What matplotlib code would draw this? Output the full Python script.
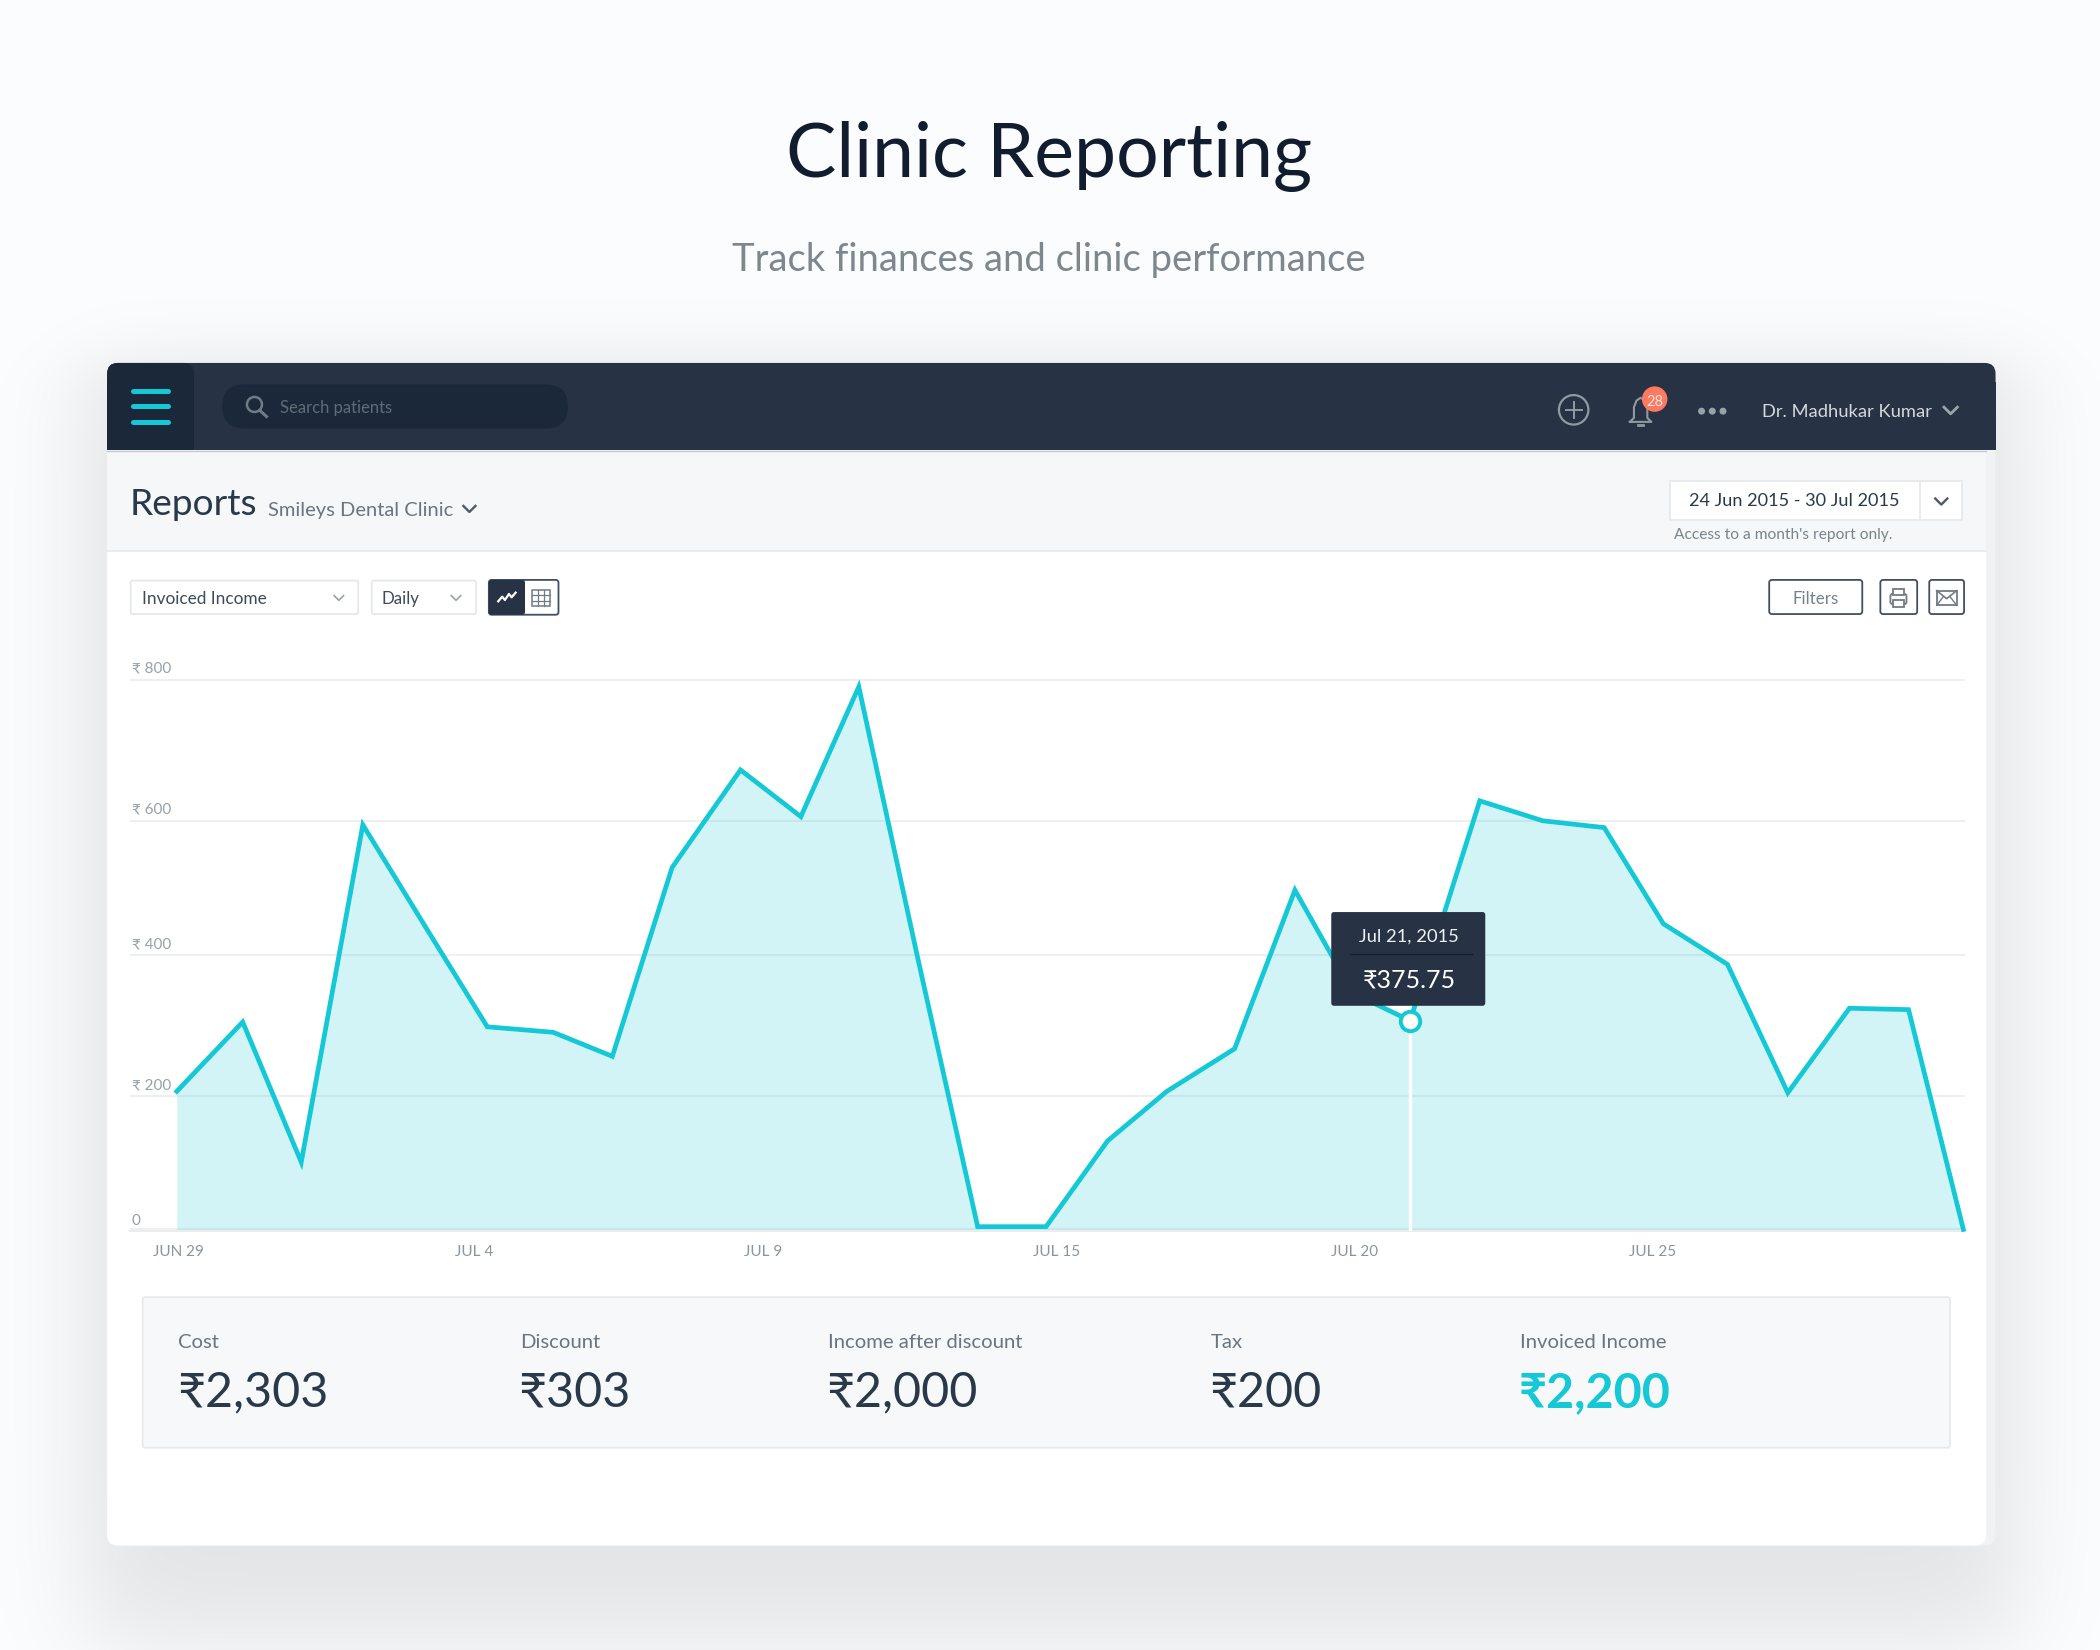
import numpy as np
import matplotlib
matplotlib.use("Agg")
import matplotlib.pyplot as plt
import matplotlib.patches as patches

plt.rcParams['font.family'] = ['Lato', 'DejaVu Sans']

# chart values
day_pos = [0, 1.07, 2.02, 3.02, 4.04, 5.04, 6.11, 7.07, 8.04, 9.15, 10.13, 11.07, 12.02, 13.0, 14.11,
           15.11, 16.07, 17.17, 18.15, 19.09, 20.02, 21.15, 22.17, 23.17, 24.13, 25.17, 26.15, 27.15, 28.11, 29.0]
income = [201, 302, 98, 589, 440, 295, 287, 252, 527, 669, 601, 790, 398, 4, 4,
          129, 201, 263, 494, 344, 304, 624, 595, 585, 445, 386, 199, 322, 320, 0]
# the gridlines in the picture are not evenly spaced, these are where they sit
y_ticks = [0, 194, 399, 595, 800]
y_labels = ['0', '₹ 200', '₹ 400', '₹ 600', '₹ 800']
x_ticks = [0.02, 4.82, 9.52, 14.28, 19.12, 23.95]
x_labels = ['JUN 29', 'JUL 4', 'JUL 9', 'JUL 15', 'JUL 20', 'JUL 25']
hover_index = 20
hover_date = 'Jul 21, 2015'
hover_value = '₹375.75'

summary_names = ['Cost', 'Discount', 'Income after discount', 'Tax', 'Invoiced Income']
summary_values = ['₹2,303', '₹303', '₹2,000', '₹200', '₹2,200']

TEAL = '#14c8d6'
NAVY = '#273344'
DARK = '#1b2839'
TEXT = '#2a394a'
GREY = '#69757f'
W, H = 1568, 1232

fig = plt.figure(figsize=(21, 16.5), dpi=100)


def px_axes(zorder):
    ax = fig.add_axes([0, 0, 1, 1], zorder=zorder)
    ax.set_xlim(0, W)
    ax.set_ylim(H, 0)
    ax.axis('off')
    ax.patch.set_alpha(0)
    return ax


def box(ax, x0, y0, x1, y1, fc='white', ec='none', lw=1.0, r=0, z=2):
    if r:
        p = patches.FancyBboxPatch((x0 + r, y0 + r), x1 - x0 - 2 * r, y1 - y0 - 2 * r,
                                   boxstyle='round,pad=%f,rounding_size=%f' % (r, r),
                                   fc=fc, ec=ec, lw=lw, zorder=z)
    else:
        p = patches.Rectangle((x0, y0), x1 - x0, y1 - y0, fc=fc, ec=ec, lw=lw, zorder=z)
    ax.add_patch(p)


def chevron(ax, x, y, w=4.5, h=4, color='#6f7b85', lw=1.4):
    ax.plot([x - w, x, x + w], [y - h / 2, y + h / 2, y - h / 2], color=color, lw=lw, zorder=5)


# background + soft card shadow
bg = px_axes(0)
xx, yy = np.meshgrid(np.arange(W) + 0.5, np.arange(H) + 0.5)
sx = 0.5 * (np.tanh((xx - 62) / 42) - np.tanh((xx - 1508) / 42))
sy = 0.5 * (np.tanh((yy - 270) / 30) - np.tanh((yy - 1226) / 50))
shade = sx * sy
base = np.array([252, 253, 254])
dark = np.array([25, 25, 24])
img = (base[None, None, :] - shade[:, :, None] * dark[None, None, :]) / 255.0
bg.imshow(img, extent=[0, W, H, 0], aspect='auto', zorder=0)
bg.set_xlim(0, W)
bg.set_ylim(H, 0)

# card body
box(bg, 80, 300, 1490, 1154, fc='#f1f2f4', r=8, z=1)
box(bg, 80, 400, 1483, 1154, fc='white', r=8, z=2)
box(bg, 80, 336, 1483, 411, fc='#f6f7f9', z=3)
bg.plot([80, 1483], [411.5, 411.5], color='#e6e9eb', lw=1.2, zorder=4)

# chart
ax = fig.add_axes([97 / W, 1 - 919 / H, (1467 - 97) / W, (919 - 500) / H], zorder=1)
ax.patch.set_alpha(0)
ax.set_xlim(-0.761, 29.022)
ax.set_ylim(-2, 815)
for s in ['top', 'right', 'left']:
    ax.spines[s].set_visible(False)
ax.spines['bottom'].set_color('#e6e9eb')
ax.spines['bottom'].set_linewidth(1.2)
ax.set_yticks(y_ticks)
ax.set_yticklabels([])
ax.tick_params(axis='y', length=0)
ax.grid(axis='y', color='#e8ebed', lw=1.1, zorder=1)
ax.set_axisbelow(True)
ax.set_xticks(x_ticks)
ax.set_xticklabels(x_labels, fontsize=11, color='#8b959d')
ax.tick_params(axis='x', length=0, pad=10)
for v, lab in zip(y_ticks, y_labels):
    ax.text(0.001, v + (16 if v else 13), lab, transform=ax.get_yaxis_transform(), fontsize=11,
            color='#98a1a8', va='center', ha='left')
ax.fill_between(day_pos, income, 0, color=TEAL, alpha=0.19, lw=0, zorder=2)
ax.plot(day_pos, income, color=TEAL, lw=3.4, solid_joinstyle='miter', zorder=3, clip_on=False)
ax.plot([day_pos[hover_index]] * 2, [0, income[hover_index]], color='white', lw=2.4, zorder=3)
ax.plot(day_pos[hover_index], income[hover_index], 'o', ms=14, mfc='white', mec=TEAL, mew=2.8, zorder=4)

# everything else of the ui sits on top
ui = px_axes(2)

ui.text(783, 117, 'Clinic Reporting', fontsize=54.2, color='#111d2f', ha='center', va='center')
ui.text(783, 194, 'Track finances and clinic performance', fontsize=27.5, color='#7f878e', ha='center', va='center')

# top bar
box(ui, 80, 271, 1490, 300, fc=NAVY, r=8)
box(ui, 80, 285, 1490, 336, fc=NAVY)
box(ui, 80, 271, 145, 300, fc=DARK, r=8, z=3)
box(ui, 80, 285, 145, 336, fc=DARK, z=3)
box(ui, 145, 271, 160, 336, fc=NAVY, z=3)
ui.plot([80, 1483], [336.8, 336.8], color='#c3c9cf', lw=1.0, zorder=3)
for y in [292, 303.5, 315]:
    ui.plot([99.5, 125.5], [y, y], color=TEAL, lw=3.6, solid_capstyle='round', zorder=4)
box(ui, 166, 287, 424, 320, fc=DARK, r=16.5, z=3)
ui.add_patch(patches.Circle((190, 302), 5.6, fc='none', ec='#6f7c86', lw=1.8, zorder=4))
ui.plot([194, 199], [306.5, 311], color='#6f7c86', lw=2.2, zorder=4)
ui.text(209, 304.5, 'Search patients', fontsize=12, color='#5e6c78', va='center', zorder=4)

ui.add_patch(patches.Circle((1175, 306), 11, fc='none', ec='#8f9aa2', lw=1.6, zorder=4))
ui.plot([1169, 1181], [306, 306], color='#8f9aa2', lw=1.4, zorder=4)
ui.plot([1175, 1175], [300, 312], color='#8f9aa2', lw=1.4, zorder=4)
# bell
bell_x = [1217, 1220, 1220, 1222, 1225, 1228, 1230, 1230, 1233]
bell_y = [315, 312, 304, 299, 297, 299, 304, 312, 315]
ui.plot(bell_x + [1217], bell_y + [315], color='#8f9aa2', lw=1.5, zorder=4)
ui.plot([1223, 1227], [317, 317], color='#8f9aa2', lw=2, zorder=4)
ui.add_patch(patches.Circle((1235.5, 298), 9.5, fc='#fc7a62', ec='none', zorder=5))
ui.text(1235.5, 300.5, '28', fontsize=10.5, color='#fde4df', ha='center', va='center', zorder=6)
for x in [1270.5, 1278.5, 1286.5]:
    ui.add_patch(patches.Circle((x, 307), 2.6, fc='#98a2a9', ec='none', zorder=4))
ui.text(1316, 307.5, 'Dr. Madhukar Kumar', fontsize=13.2, color='#d3d8dc', va='center', zorder=4)
chevron(ui, 1456.5, 306.5, w=5, h=5, color='#9aa4ab', lw=2)

# reports row
ui.text(97, 377, 'Reports', fontsize=26.7, color=TEXT, va='center', zorder=4)
ui.text(200, 381, 'Smileys Dental Clinic', fontsize=14.5, color=GREY, va='center', zorder=4)
chevron(ui, 350.5, 380, w=4.5, h=4.5, color='#4d5a67', lw=1.7)
box(ui, 1247, 359, 1465, 388, fc='white', ec='#e7e9ec', lw=1.3, z=3)
ui.plot([1433.5, 1433.5], [359, 388], color='#e7e9ec', lw=1.3, zorder=4)
ui.text(1340, 374, '24 Jun 2015 - 30 Jul 2015', fontsize=13.1, color=TEXT, ha='center', va='center', zorder=4)
chevron(ui, 1449.5, 374.5, w=4.5, h=4.5, color='#4d5a67', lw=1.7)
ui.text(1250, 399.5, "Access to a month's report only.", fontsize=11.2, color='#79848d', va='center', zorder=4)

# controls row
box(ui, 97.5, 433.5, 267.5, 458.5, fc='white', ec='#e6e8eb', lw=1.3, r=1.5)
ui.text(106, 447, 'Invoiced Income', fontsize=12.4, color='#3d4a57', va='center', zorder=4)
chevron(ui, 253, 446.5, w=3.5, h=3.5, color='#9aa3aa', lw=1.2)
box(ui, 277.5, 433.5, 355.5, 458.5, fc='white', ec='#e6e8eb', lw=1.3, r=1.5)
ui.text(285, 447, 'Daily', fontsize=12.2, color='#3d4a57', va='center', zorder=4)
chevron(ui, 340.5, 446.5, w=3.5, h=3.5, color='#9aa3aa', lw=1.2)
box(ui, 365, 433, 417, 459, fc='white', ec='#3f5061', lw=1.3, r=2)
box(ui, 365, 433, 392, 459, fc=NAVY, r=2, z=3)
ui.plot([372, 375, 377, 380, 382, 385], [449, 445.5, 448, 443.5, 446, 442.5], color='white', lw=1.6, zorder=4)
box(ui, 397.5, 440.5, 410.5, 452.5, fc='none', ec='#6f7c86', lw=1.1, z=4)
for x in [401.8, 406.2]:
    ui.plot([x, x], [440.5, 452.5], color='#6f7c86', lw=0.9, zorder=4)
for y in [444.5, 448.5]:
    ui.plot([397.5, 410.5], [y, y], color='#6f7c86', lw=0.9, zorder=4)

box(ui, 1321, 433, 1390.5, 458.5, fc='white', ec='#3f5061', lw=1.3, r=2)
ui.text(1356, 447, 'Filters', fontsize=12.2, color='#76828b', ha='center', va='center', zorder=4)
box(ui, 1404, 433, 1431.5, 458.5, fc='white', ec='#3f5061', lw=1.3, r=2)
box(ui, 1440.5, 433, 1466.5, 458.5, fc='white', ec='#3f5061', lw=1.3, r=2)
# printer
box(ui, 1411.5, 443.5, 1423.5, 451, fc='none', ec='#6f7c86', lw=1.3, r=1.5, z=4)
box(ui, 1413.5, 439.5, 1421.5, 444, fc='white', ec='#6f7c86', lw=1.3, z=4)
box(ui, 1413.5, 448, 1421.5, 453, fc='white', ec='#6f7c86', lw=1.3, z=4)
# envelope
box(ui, 1446, 441, 1461, 452, fc='none', ec='#6f7c86', lw=1.3, z=4)
ui.plot([1446, 1453.5, 1461], [441, 447, 441], color='#6f7c86', lw=1.2, zorder=4)
ui.plot([1446, 1451], [452, 445.5], color='#6f7c86', lw=1.0, zorder=4)
ui.plot([1461, 1456], [452, 445.5], color='#6f7c86', lw=1.0, zorder=4)

# tooltip
box(ui, 994, 681, 1109, 751, fc=NAVY, r=2, z=6)
ui.text(1052, 699, hover_date, fontsize=13.2, color='#eef0f2', ha='center', va='center', zorder=7)
ui.plot([1008, 1099], [712, 712], color='#141f2e', lw=1.0, zorder=7)
ui.text(1052, 732, hover_value, fontsize=18, color='white', ha='center', va='center', zorder=7)

# summary strip
box(ui, 106.5, 968.5, 1456, 1081, fc='#f7f8fa', ec='#e6e8eb', lw=1.2, r=2)
name_x = [133, 388, 618, 904, 1135]
for i, (n, v) in enumerate(zip(summary_names, summary_values)):
    last = i == len(summary_names) - 1
    ui.text(name_x[i], 1002.5, n, fontsize=14.6, color=GREY, va='center', zorder=4)
    ui.text(name_x[i] - 1, 1040, v, fontsize=34.8, color=TEAL if last else TEXT,
            fontweight='bold' if last else 'normal', va='center', zorder=4)

fig.savefig('out.png', dpi=100)
